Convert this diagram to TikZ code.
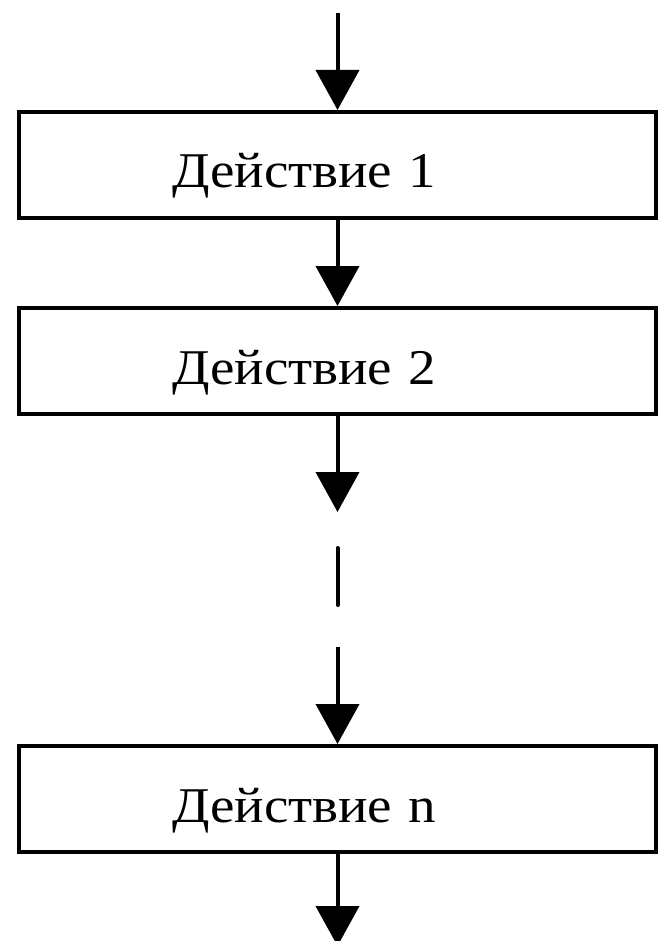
\documentclass[tikz,border=0pt]{standalone}
\usepackage{fontspec}
\setmainfont[FakeStretch=1.1]{Liberation Serif}
\usetikzlibrary{arrows.meta,positioning}

\begin{document}
\begin{tikzpicture}[x=1pt,y=-1pt,
    line width=4pt,
    actbox/.style={draw, rectangle, minimum width=637pt,
      inner xsep=153pt, inner ysep=0pt, text width=331pt, align=left,
      text height=76pt, text depth=30pt, font=\fontsize{50}{50}\selectfont},
    flow/.style={-{Triangle[width=43pt,length=40pt]}}
  ]
    \useasboundingbox (0,0) rectangle (658,941);

    \node[actbox] (a1) at (337.5,165) {Действие 1};
    \node[actbox] (a2) at (337.5,361) {Действие 2};
    \node[actbox] (an) at (337.5,799) {Действие n};

    \coordinate (top) at (337.5,13);
    \coordinate (gap1) at (337.5,512);
    \coordinate (d1) at (337.5,548);
    \coordinate (d2) at (337.5,605);
    \coordinate (gap2) at (337.5,647);
    \coordinate (bot) at (337.5,946);

    \draw[flow] (top) -- (a1.north);
    \draw[flow] (a1.south) -- (a2.north);
    \draw[flow] (a2.south) -- (gap1);
    \draw[line cap=round] (d1) -- (d2);
    \draw[flow] (gap2) -- (an.north);
    \draw[flow] (an.south) -- (bot);
\end{tikzpicture}
\end{document}
